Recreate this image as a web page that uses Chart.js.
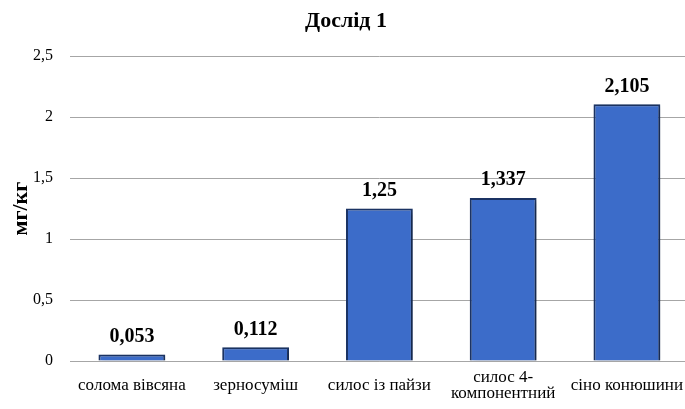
<!DOCTYPE html>
<html lang="uk">
<head>
  <meta charset="UTF-8">
  <title>Дослід 1</title>
  <script src="https://cdn.jsdelivr.net/npm/chart.js"></script>
  <style>
    html, body { margin: 0; padding: 0; background: #fff; overflow: hidden; }
    #wrap { width: 692px; height: 409px; }
  </style>
</head>
<body>
  <div id="wrap"><canvas id="chart"></canvas></div>

  <script>
    const categories = ['солома вівсяна', 'зерносуміш', 'силос із пайзи', ['силос 4-', 'компонентний'], 'сіно конюшини'];
    const values = [0.053, 0.112, 1.25, 1.337, 2.105];
    const valueLabels = ['0,053', '0,112', '1,25', '1,337', '2,105'];

    const serif = "'Liberation Serif', 'Times New Roman', serif";
    const comma = v => String(v).replace('.', ',');

    // shadow behind bars + value labels above them
    const barExtras = {
      id: 'barExtras',
      beforeDatasetDraw(chart) {
        const c = chart.ctx;
        c.save();
        c.shadowColor = 'rgba(0,0,0,0.35)';
        c.shadowBlur = 5;
        c.shadowOffsetX = 2;
        c.shadowOffsetY = 2;
      },
      afterDatasetDraw(chart) {
        chart.ctx.restore();
      },
      afterDatasetsDraw(chart) {
        const c = chart.ctx;
        const meta = chart.getDatasetMeta(0);
        c.save();
        c.font = 'bold 20px ' + serif;
        c.fillStyle = '#000';
        c.textAlign = 'center';
        c.textBaseline = 'middle';
        meta.data.forEach((bar, i) => {
          c.fillText(valueLabels[i], bar.x, bar.y - 18);
        });
        c.restore();
      }
    };

    new Chart(document.getElementById('chart'), {
      type: 'bar',
      data: {
        labels: categories,
        datasets: [{
          data: values,
          backgroundColor: '#3c6cc9',
          borderColor: '#1c3566',
          borderWidth: 2,
          categoryPercentage: 1,
          barPercentage: 0.54
        }]
      },
      options: {
        responsive: true,
        maintainAspectRatio: false,
        animation: false,
        layout: { padding: 0 },
        plugins: {
          legend: { display: false },
          tooltip: { enabled: false },
          title: {
            display: true,
            text: 'Дослід 1',
            color: '#000',
            font: { family: serif, size: 22, weight: 'bold', lineHeight: 1.1 },
            padding: { top: 9, bottom: 23 }
          }
        },
        scales: {
          x: {
            grid: { display: false },
            border: { display: true, color: '#a6a6a6', width: 1 },
            ticks: {
              color: '#000',
              font: { family: serif, size: 17, lineHeight: 0.92 },
              padding: 9,
              crossAlign: 'center',
              maxRotation: 0,
              autoSkip: false
            },
            afterFit(scale) { scale.height = 48; }
          },
          y: {
            min: 0,
            max: 2.5,
            ticks: {
              stepSize: 0.5,
              color: '#000',
              font: { family: serif, size: 16 },
              padding: 17,
              callback: v => comma(v)
            },
            grid: { color: '#a6a6a6', drawTicks: false },
            border: { display: false },
            title: {
              display: true,
              text: 'мг/кг',
              color: '#000',
              font: { family: serif, size: 22, weight: 'bold', lineHeight: 1.1 },
              padding: { top: 9, bottom: 0 }
            },
            afterFit(scale) { scale.width = 70; }
          }
        }
      },
      plugins: [barExtras]
    });
  </script>
</body>
</html>
